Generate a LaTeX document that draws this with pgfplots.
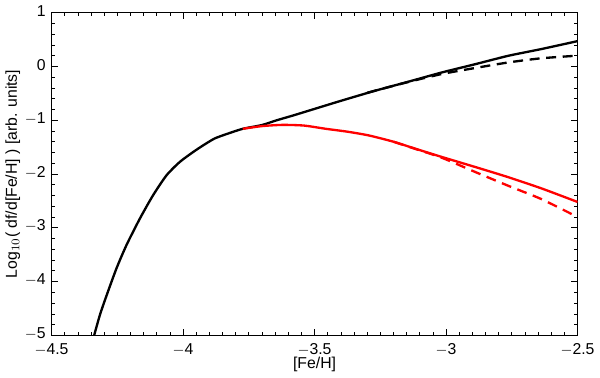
\documentclass[border=0pt]{standalone}
\usepackage{fontspec}
\setmainfont{Liberation Sans}
\usepackage{pgfplots}
\pgfplotsset{compat=1.18}

\begin{document}
\begin{tikzpicture}
\begin{axis}[
  scale only axis,
  width=316.8pt, height=194.4pt,
  xmin=-4.5, xmax=-2.5, ymin=-5, ymax=1,
  xtick={-4.5,-4,-3.5,-3,-2.5},
  xticklabels={$-$4.5,$-$4,$-$3.5,$-$3,$-$2.5},
  ytick={-5,-4,-3,-2,-1,0,1},
  yticklabels={$-$5,$-$4,$-$3,$-$2,$-$1,0,1},
  minor x tick num=9, minor y tick num=4,
  tick align=inside,
  major tick length=4pt, minor tick length=2pt,
  tick style={black, line width=0.4pt},
  axis line style={line width=0.5pt},
  tick label style={font=\fontsize{9.5}{11}\selectfont},
  xticklabel style={yshift=-1.5pt},
  yticklabel style={yshift=1pt},
  label style={font=\fontsize{9.5}{11}\selectfont},
  xlabel={[Fe/H]},
  ylabel={Log$_{10}$( df/d[Fe/H] ) [arb. units]},
  xlabel style={yshift=6pt},
  ylabel style={yshift=-4pt},
  every axis plot/.append style={line width=1.4pt, smooth, tension=0.4},
]
% black solid
\addplot[black] coordinates {
  (-4.345,-5.15) (-4.338,-5.0) (-4.316,-4.617) (-4.290,-4.247) (-4.253,-3.753)
  (-4.215,-3.32) (-4.164,-2.827) (-4.114,-2.395) (-4.063,-2.025)
  (-4.013,-1.778) (-3.962,-1.593) (-3.924,-1.469) (-3.88,-1.34)
  (-3.83,-1.25) (-3.773,-1.16)
  (-3.700,-1.09) (-3.647,-1.006) (-3.58,-0.91)
  (-3.52,-0.82) (-3.40,-0.64) (-3.268,-0.45) (-3.14,-0.28) (-3.015,-0.111)
  (-2.89,0.04) (-2.763,0.198) (-2.64,0.32) (-2.5,0.47)
};
% black dashed
\addplot[black, dash pattern=on 6pt off 4pt] coordinates {
  (-3.30,-0.49) (-3.14,-0.285) (-3.015,-0.14) (-2.89,-0.03)
  (-2.763,0.074) (-2.64,0.15) (-2.5,0.20)
};
% red solid
\addplot[red] coordinates {
  (-3.773,-1.16) (-3.70,-1.11) (-3.621,-1.087) (-3.54,-1.10) (-3.457,-1.16)
  (-3.373,-1.215) (-3.293,-1.284) (-3.20,-1.40) (-3.116,-1.531)
  (-3.015,-1.685) (-2.889,-1.87) (-2.763,-2.06) (-2.636,-2.27) (-2.5,-2.52)
};
% red dashed
\addplot[red, dash pattern=on 6pt off 4pt] coordinates {
  (-3.20,-1.40) (-3.116,-1.535) (-3.015,-1.70) (-2.889,-1.963)
  (-2.763,-2.22) (-2.636,-2.47) (-2.5,-2.80)
};
\end{axis}
\end{tikzpicture}
\end{document}
